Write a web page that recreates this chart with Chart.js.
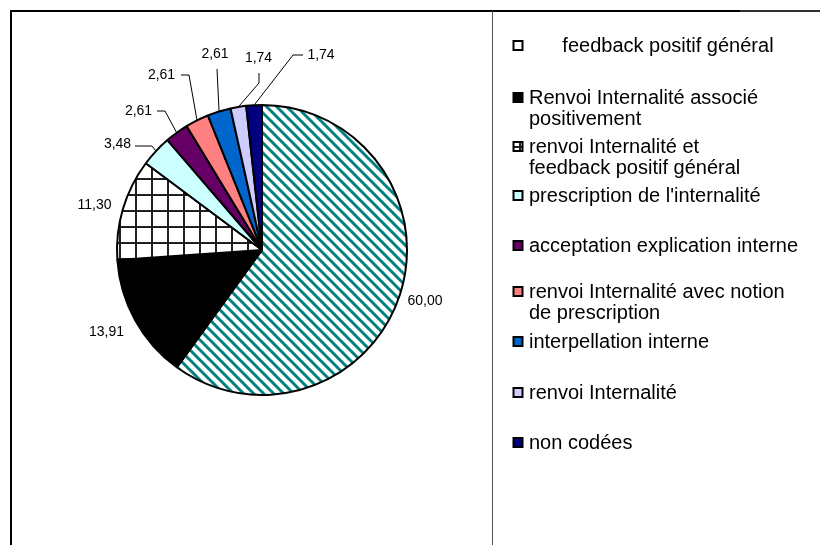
<!DOCTYPE html>
<html>
<head>
<meta charset="utf-8">
<script src="https://cdn.jsdelivr.net/npm/chart.js@4/dist/chart.umd.min.js"></script>
<style>
html,body{margin:0;padding:0;background:#fff;}
#wrap{position:relative;width:820px;height:545px;}
</style>
</head>
<body>
<div id="wrap"><canvas id="c" width="820" height="545"></canvas></div>
<script>
// ---- data ----
const categories = [
  '      feedback positif général',
  ['Renvoi Internalité associé', 'positivement'],
  ['renvoi Internalité et', 'feedback positif général'],
  "prescription de l'internalité",
  'acceptation explication interne',
  ['renvoi Internalité avec notion', 'de prescription'],
  'interpellation interne',
  'renvoi Internalité',
  'non codées'
];
const values = [60.00, 13.91, 11.30, 3.48, 2.61, 2.61, 2.61, 1.74, 1.74];

// ---- styles ----
function hatchPattern() {
  const c = document.createElement('canvas'); c.width = 10; c.height = 10;
  const g = c.getContext('2d');
  g.fillStyle = '#fff'; g.fillRect(0, 0, 10, 10);
  g.strokeStyle = '#008080'; g.lineWidth = 3;
  for (const o of [-10, 0, 10]) { g.beginPath(); g.moveTo(o - 1, -1); g.lineTo(o + 11, 11); g.stroke(); }
  return g.createPattern(c, 'repeat');
}
function gridPattern() {
  const c = document.createElement('canvas'); c.width = 16; c.height = 16;
  const g = c.getContext('2d');
  g.fillStyle = '#fff'; g.fillRect(0, 0, 16, 16);
  g.fillStyle = '#202020';
  g.fillRect(7, 0, 2, 16);
  g.fillRect(0, 2, 16, 2);
  return g.createPattern(c, 'repeat');
}
const fills = [hatchPattern(), '#000000', gridPattern(), '#CCFFFF', '#660066', '#FF8080', '#0066CC', '#CCCCFF', '#000080'];
const legendFills = ['#FFFFFF', '#000000', gridPattern(), '#CCFFFF', '#660066', '#FF8080', '#0066CC', '#CCCCFF', '#000080'];

// label placement relative to pie centre (text centre, optional leader elbows)
const labelSpecs = [
  { t: [163, 51] },
  { t: [-155.5, 82] },
  { t: [-167.5, -45] },
  { t: [-144.5, -106], p: [[-127, -104], [-110, -104]] },
  { t: [-123.5, -139], p: [[-105, -139], [-97, -139]] },
  { t: [-100.5, -175], p: [[-81, -175], [-73, -175]] },
  { t: [-47, -196], p: [[-45, -181]] },
  { t: [-3.5, -192], p: [[-3, -177], [-3, -167]] },
  { t: [59, -195], p: [[41, -195], [31, -195]] }
];
const legendY = [46, 98, 147, 196, 246, 292, 342, 393, 443];

const framePlugin = {
  id: 'frame',
  beforeDraw(chart) {
    const ctx = chart.ctx; ctx.save();
    ctx.fillStyle = '#fff'; ctx.fillRect(0, 0, chart.width, chart.height);
    ctx.strokeStyle = '#000'; ctx.lineWidth = 2;
    ctx.beginPath(); ctx.moveTo(11, chart.height); ctx.lineTo(11, 11); ctx.lineTo(740, 11); ctx.stroke();
    ctx.strokeStyle = '#303030';
    ctx.beginPath(); ctx.moveTo(740, 11); ctx.lineTo(chart.width, 11); ctx.stroke();
    ctx.strokeStyle = '#555'; ctx.lineWidth = 1;
    ctx.beginPath(); ctx.moveTo(492.5, 11); ctx.lineTo(492.5, chart.height); ctx.stroke();
    ctx.restore();
  }
};

const labelPlugin = {
  id: 'sliceLabels',
  afterDatasetsDraw(chart) {
    const ctx = chart.ctx; const meta = chart.getDatasetMeta(0);
    ctx.save();
    ctx.font = '14px "Liberation Sans", Arial, sans-serif';
    ctx.fillStyle = '#000'; ctx.textAlign = 'center'; ctx.textBaseline = 'middle';
    ctx.strokeStyle = '#000'; ctx.lineWidth = 1;
    meta.data.forEach((arc, i) => {
      const spec = labelSpecs[i];
      const cx = arc.x, cy = arc.y;
      const mid = (arc.startAngle + arc.endAngle) / 2;
      const rx = cx + Math.cos(mid) * arc.outerRadius, ry = cy + Math.sin(mid) * arc.outerRadius;
      if (spec.p) {
        ctx.beginPath();
        spec.p.forEach((q, k) => { const fn = k === 0 ? 'moveTo' : 'lineTo'; ctx[fn](cx + q[0], cy + q[1]); });
        ctx.lineTo(rx, ry); ctx.stroke();
      }
      const txt = values[i].toFixed(2).replace('.', ',');
      ctx.fillText(txt, cx + spec.t[0], cy + spec.t[1]);
    });
    ctx.restore();
  }
};

const legendPlugin = {
  id: 'sideLegend',
  afterDraw(chart) {
    const ctx = chart.ctx; ctx.save();
    ctx.font = '20px "Liberation Sans", Arial, sans-serif';
    ctx.textBaseline = 'middle'; ctx.textAlign = 'left';
    chart.data.labels.forEach((lab, i) => {
      const y = legendY[i];
      ctx.fillStyle = legendFills[i]; ctx.fillRect(513.5, y - 5, 9, 9);
      ctx.strokeStyle = '#000'; ctx.lineWidth = 2; ctx.strokeRect(513.5, y - 5, 9, 9);
      ctx.fillStyle = '#000';
      const lines = Array.isArray(lab) ? lab : [lab];
      lines.forEach((ln, k) => ctx.fillText(ln, 529, y + k * 21));
    });
    ctx.restore();
  }
};

new Chart(document.getElementById('c'), {
  type: 'pie',
  data: {
    labels: categories,
    datasets: [{
      data: values,
      backgroundColor: fills,
      borderColor: '#000',
      borderWidth: 2,
      radius: 145
    }]
  },
  options: {
    responsive: false,
    animation: false,
    layout: { padding: { left: 112, right: 408, top: 100, bottom: 145 } },
    plugins: { legend: { display: false }, tooltip: { enabled: false } }
  },
  plugins: [framePlugin, labelPlugin, legendPlugin]
});
</script>
</body>
</html>
